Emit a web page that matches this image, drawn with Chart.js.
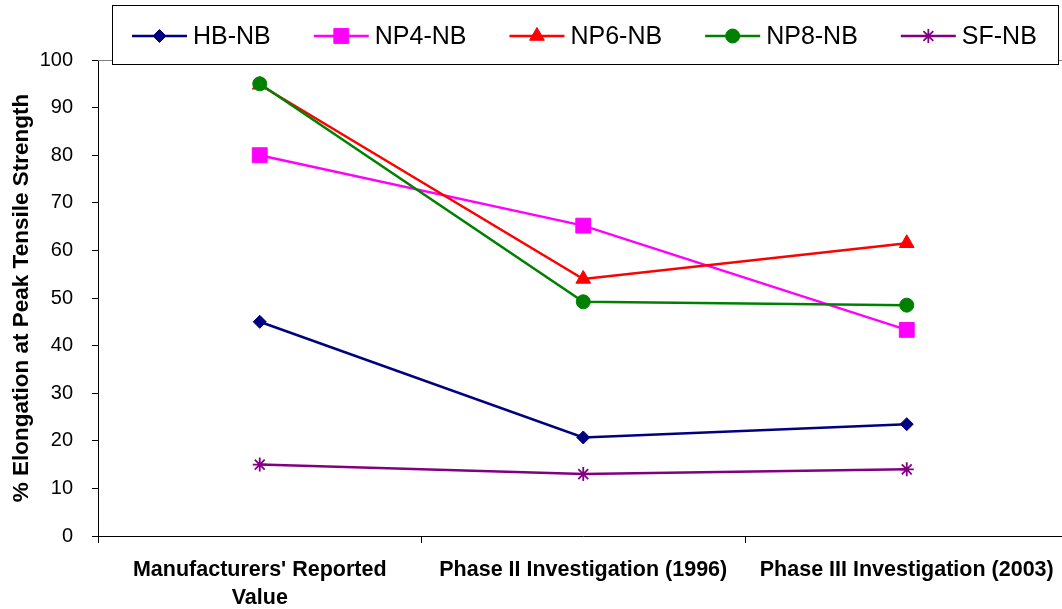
<!DOCTYPE html>
<html><head><meta charset="utf-8">
<script src="https://cdn.jsdelivr.net/npm/chart.js@4.4.1/dist/chart.umd.min.js"></script>
<style>html,body{margin:0;padding:0;overflow:hidden;background:#fff;width:1062px;height:609px}canvas{display:block}</style>
</head><body><canvas id="c" width="1080" height="609"></canvas>
<script>
// ---- data ----
const categories = [["Manufacturers' Reported", "Value"], "Phase II Investigation (1996)", "Phase III Investigation (2003)"];
const seriesNames = ["HB-NB", "NP4-NB", "NP6-NB", "NP8-NB", "SF-NB"];
const hbValues  = [45, 20.7, 23.5];
const np4Values = [80, 65.2, 43.3];
const np6Values = [94.8, 54, 61.5];
const np8Values = [95, 49.2, 48.5];
const sfValues  = [15, 13, 14];
const yTickValues = [0, 10, 20, 30, 40, 50, 60, 70, 80, 90, 100];
const yTitle = "% Elongation at Peak Tensile Strength";

// ---- styles ----
const seriesValues = [hbValues, np4Values, np6Values, np8Values, sfValues];
const colors = ["#000080", "#FF00FF", "#FF0000", "#008000", "#800080"];
const pointStyles = ["rectRot", "rect", "triangle", "circle", "star"];
const pointRadii = [6.5, 10.5, 8.5, 7, 7];
const pointBorders = [1, 1, 1, 1, 1.8];
const FONT = '"Liberation Sans", Arial, sans-serif';

const datasets = seriesNames.map((name, i) => ({
  label: name,
  data: seriesValues[i],
  borderColor: colors[i],
  backgroundColor: colors[i],
  pointBackgroundColor: colors[i],
  pointBorderColor: colors[i],
  pointStyle: pointStyles[i],
  pointRadius: pointRadii[i],
  pointHoverRadius: pointRadii[i],
  pointBorderWidth: pointBorders[i],
  borderWidth: 2.5,
  tension: 0,
  order: seriesNames.length - i
}));

const boxLegend = {
  id: 'boxLegend',
  beforeDatasetsDraw(chart) {
    const ctx = chart.ctx, a = chart.chartArea;
    ctx.save();
    ctx.strokeStyle = '#808080';
    ctx.lineWidth = 1;
    ctx.beginPath();
    ctx.moveTo(a.left, Math.round(a.top) + 0.5);
    ctx.lineTo(a.right, Math.round(a.top) + 0.5);
    ctx.stroke();
    ctx.restore();
  },
  afterDraw(chart) {
    const ctx = chart.ctx;
    ctx.save();
    ctx.fillStyle = '#fff';
    ctx.fillRect(112.5, 5.5, 946, 59);
    ctx.strokeStyle = '#000';
    ctx.lineWidth = 1;
    ctx.strokeRect(112.5, 5.5, 946, 59);
    ctx.font = '25px ' + FONT;
    ctx.textBaseline = 'middle';
    ctx.textAlign = 'left';
    let x = 132;
    const y = 36;
    chart.data.datasets.forEach((ds) => {
      ctx.strokeStyle = ds.borderColor;
      ctx.lineWidth = 2.5;
      ctx.beginPath();
      ctx.moveTo(x, y);
      ctx.lineTo(x + 55, y);
      ctx.stroke();
      ctx.fillStyle = ds.borderColor;
      ctx.lineWidth = ds.pointBorderWidth;
      Chart.helpers.drawPoint(ctx, {pointStyle: ds.pointStyle, radius: ds.pointRadius, borderWidth: ds.pointBorderWidth, rotation: 0}, x + 27.5, y);
      ctx.fillStyle = '#000';
      ctx.fillText(ds.label, x + 61, y + 1);
      x += 61 + ctx.measureText(ds.label).width + 43;
    });
    ctx.restore();
  }
};

new Chart(document.getElementById('c'), {
  type: 'line',
  data: { labels: categories, datasets },
  options: {
    responsive: false,
    animation: false,
    devicePixelRatio: 1,
    layout: { padding: { top: 60, right: 10, left: 0, bottom: 0 } },
    plugins: { legend: { display: false }, tooltip: { enabled: false } },
    scales: {
      x: {
        type: 'category',
        offset: true,
        grid: { display: true, drawOnChartArea: false, offset: true, color: '#000', tickLength: 7, tickWidth: 1 },
        border: { display: true, color: '#000', width: 1 },
        ticks: { color: '#000', padding: 13, maxRotation: 0, autoSkip: false,
                 font: { family: FONT, size: 21.5, weight: 'bold', lineHeight: 1.3 } },
        afterFit(s) { s.height = 73; }
      },
      y: {
        min: 0, max: 100,
        afterBuildTicks(s) { s.ticks = yTickValues.map(v => ({ value: v })); },
        grid: { display: true, drawOnChartArea: false, color: '#000', tickLength: 6, tickWidth: 1 },
        border: { display: true, color: '#000', width: 1 },
        ticks: { color: '#000', padding: 19, font: { family: FONT, size: 20 } },
        title: { display: true, text: yTitle, color: '#000', padding: { top: 8, bottom: 0 },
                 font: { family: FONT, size: 22.5, weight: 'bold', lineHeight: 1.2 } },
        afterFit(s) { s.width = 98; }
      }
    }
  },
  plugins: [boxLegend]
});
</script>
</body></html>
